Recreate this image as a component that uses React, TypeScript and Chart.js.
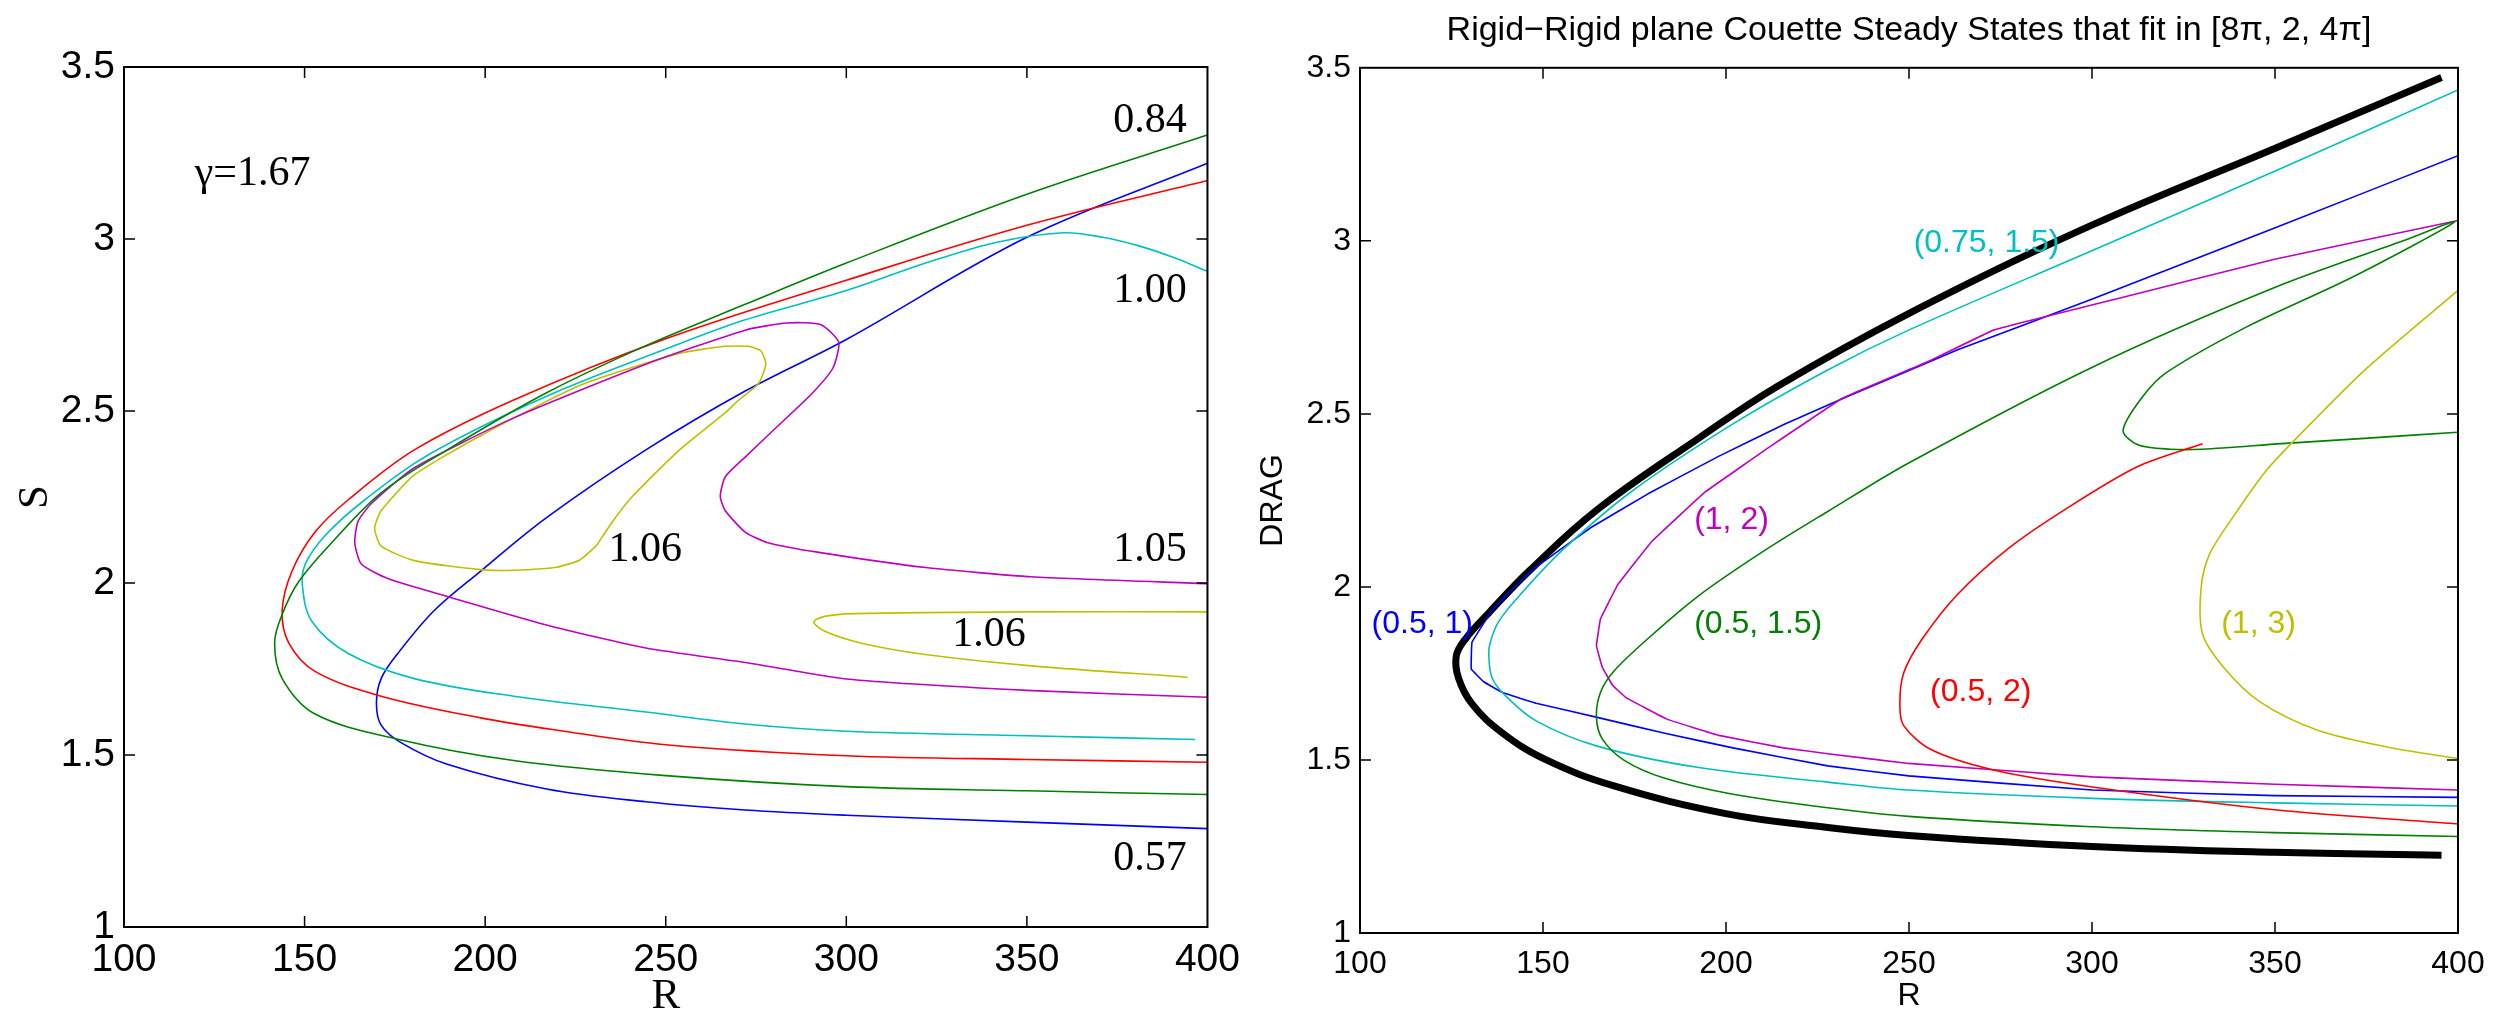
import React, { useEffect, useRef } from "react";
import { Chart, registerables } from "chart.js";

Chart.register(...registerables);

type Pt = [number, number];

// ---------- shared axis values ----------
const X_TICKS = [100, 150, 200, 250, 300, 350, 400];
const Y_TICKS = [1, 1.5, 2, 2.5, 3, 3.5];

// ---------- LEFT PANEL (R, S) ----------
const L_GREEN_084: Pt[] = [
  [400, 1.385], [350, 1.396], [300, 1.408], [250, 1.44], [207.9, 1.484], [175.8, 1.546],
  [152.9, 1.619], [143.8, 1.722], [141.7, 1.826], [143.8, 1.909], [148.3, 2.003], [157.5, 2.117],
  [171.2, 2.262], [189.5, 2.387], [217, 2.553], [244.5, 2.69], [272, 2.81], [300, 2.93],
  [350, 3.13], [400, 3.302],
];
const L_RED: Pt[] = [
  [400, 1.479], [350, 1.487], [300, 1.498], [250, 1.53], [220, 1.572], [198.7, 1.608],
  [171.2, 1.671], [152.9, 1.743], [145.6, 1.826], [143.8, 1.92], [146.5, 2.034], [152.9, 2.148],
  [162.1, 2.242], [180.4, 2.387], [207.9, 2.532], [250, 2.71], [300, 2.88], [350, 3.04], [400, 3.17],
];
const L_CYAN_100: Pt[] = [
  [396.5, 1.545], [350, 1.556], [300, 1.569], [272, 1.59], [244.5, 1.625], [207.9, 1.671],
  [180.4, 1.722], [162.1, 1.795], [152, 1.889], [149.4, 1.992], [150.2, 2.055], [155.7, 2.138],
  [166.7, 2.242], [185, 2.377], [217, 2.543], [250, 2.68], [272, 2.765], [300, 2.85],
  [322, 2.93], [341.5, 2.99], [360, 3.018], [371, 3.005], [381, 2.98], [391, 2.945], [400, 2.906],
];
const L_BLUE_057: Pt[] = [
  [400, 1.286], [350, 1.305], [300, 1.325], [272, 1.34], [244.5, 1.364], [217, 1.401],
  [189.5, 1.473], [176.7, 1.536], [171.2, 1.587], [169.9, 1.65], [171.2, 1.722], [175.8, 1.795],
  [185.9, 1.92], [198.7, 2.034], [217, 2.19], [244.5, 2.387], [272, 2.558], [300, 2.708],
  [350, 3.005], [400, 3.22],
];
const L_MAGENTA_105: Pt[] = [
  [400, 1.668], [350, 1.688], [300, 1.721], [272, 1.769], [244.5, 1.811], [217, 1.878],
  [189.5, 1.961], [173, 2.013], [165.7, 2.055], [163.9, 2.117], [164.8, 2.179], [168.5, 2.231],
  [180.4, 2.335], [207.9, 2.48], [244.5, 2.636], [272, 2.735], [283.6, 2.756], [293, 2.751],
  [297.9, 2.7], [296.3, 2.625], [290.5, 2.551], [280.6, 2.452], [272, 2.366], [266.5, 2.309],
  [265.1, 2.252], [266.5, 2.21], [272, 2.148], [278, 2.118], [292.4, 2.089], [321.9, 2.045],
  [351.3, 2.018], [400, 1.998],
];
const L_YELLOW_106_LOOP: Pt[] = [
  [230.7, 2.107], [226.2, 2.067], [219.8, 2.046], [207.9, 2.037], [198.7, 2.039], [180.4, 2.065],
  [171.2, 2.107], [169.4, 2.159], [171.2, 2.21], [180.4, 2.314], [198.7, 2.428], [226.2, 2.574],
  [253.6, 2.667], [266.5, 2.688], [272.8, 2.688], [276.3, 2.675], [277.7, 2.637], [275.7, 2.58],
  [270, 2.53], [266.5, 2.495], [253.6, 2.385], [240.8, 2.252], [235.3, 2.179], [230.7, 2.107],
];
const L_YELLOW_106_TAIL: Pt[] = [
  [400, 1.916], [350, 1.916], [302.2, 1.911], [294, 1.903], [291, 1.886], [294.4, 1.858],
  [304.2, 1.825], [321.9, 1.792], [351.3, 1.759], [394.5, 1.726],
];

// ---------- RIGHT PANEL (R, DRAG) ----------
const R_BLACK_ENVELOPE: Pt[] = [
  [395.5, 1.225], [349.9, 1.233], [300.1, 1.25], [249.9, 1.282], [227.8, 1.305], [199.9, 1.345],
  [169.4, 1.425], [150.9, 1.5], [138.9, 1.578], [130.6, 1.662], [126.9, 1.737], [126.3, 1.8],
  [128.7, 1.848], [135.2, 1.925], [146.3, 2.047], [164.8, 2.223], [192.6, 2.43], [214.1, 2.58],
  [249.9, 2.79], [300.1, 3.046], [349.9, 3.267], [395.5, 3.472],
];
const R_CYAN_075_15: Pt[] = [
  [400, 1.367], [349.9, 1.376], [300.1, 1.389], [249.9, 1.413], [227.8, 1.436], [192.6, 1.478],
  [164.8, 1.54], [148.1, 1.613], [139.8, 1.685], [136.1, 1.737], [135.2, 1.8], [135.6, 1.84],
  [138, 1.902], [144.4, 1.985], [155.6, 2.109], [174.1, 2.275], [201.9, 2.471], [227.8, 2.627],
  [249.9, 2.742], [300.1, 2.972], [349.9, 3.201], [400, 3.436],
];
const R_BLUE_05_1: Pt[] = [
  [400, 1.392], [349.9, 1.397], [300.1, 1.413], [249.9, 1.454], [227.8, 1.483], [201.9, 1.535],
  [183.3, 1.577], [164.8, 1.623], [148.1, 1.664], [138.9, 1.695], [133.8, 1.726], [130.4, 1.763],
  [130.6, 1.84], [136.1, 1.933], [140.3, 1.98], [148.1, 2.057], [163, 2.171], [178.7, 2.269],
  [198.1, 2.378], [216.1, 2.471], [233.8, 2.553], [263.3, 2.685], [300.1, 2.832], [349.9, 3.037],
  [400, 3.246],
];
const R_MAGENTA_1_2: Pt[] = [
  [400, 1.413], [349.9, 1.43], [300.1, 1.451], [249.9, 1.49], [227.8, 1.518], [215.7, 1.535],
  [198.1, 1.571], [183.8, 1.618], [172.7, 1.68], [169, 1.716], [166.2, 1.768], [164.6, 1.83],
  [165.7, 1.907], [170.4, 2.006], [179.6, 2.13], [194.4, 2.275], [213.9, 2.419], [231.8, 2.545],
  [255.4, 2.652], [273.1, 2.742], [306.6, 2.832], [349.9, 2.947], [400, 3.059],
];
const R_GREEN_05_15: Pt[] = [
  [400, 1.279], [349.9, 1.29], [300.1, 1.307], [249.9, 1.337], [227.8, 1.362], [201.9, 1.401],
  [183.3, 1.447], [172.2, 1.499], [166.2, 1.561], [164.6, 1.623], [165.7, 1.695], [169.4, 1.757],
  [178.7, 1.851], [192.6, 1.975], [211.1, 2.109], [227.8, 2.218], [249.9, 2.358], [300.1, 2.635],
  [349.9, 2.865], [385, 3.0], [399, 3.054], [371.5, 2.897], [342, 2.75], [320.3, 2.619],
  [313.5, 2.545], [308.5, 2.452], [312.5, 2.411], [321.3, 2.398], [330.2, 2.398], [351.8, 2.414],
  [375.4, 2.43], [400, 2.447],
];
const R_RED_05_2: Pt[] = [
  [400, 1.315], [349.9, 1.356], [300.1, 1.422], [273.1, 1.471], [256, 1.53], [248.5, 1.6],
  [247.5, 1.66], [248.5, 1.75], [253.5, 1.848], [263.3, 1.979], [277.1, 2.111], [292.8, 2.225],
  [312.5, 2.348], [330.2, 2.414],
];
const R_YELLOW_1_3: Pt[] = [
  [400, 2.857], [375.4, 2.635], [359.7, 2.471], [347.9, 2.34], [339, 2.209], [332.1, 2.094],
  [329.8, 1.996], [330.2, 1.864], [336.1, 1.766], [345.9, 1.668], [361.7, 1.586], [381.3, 1.536],
  [400, 1.504],
];

// ---------- text ----------
const LEFT_LABEL_TEXT = ["γ=1.67", "0.84", "1.00", "1.06", "1.05", "1.06", "0.57"];
const LEFT_LABEL_AT: Pt[] = [
  [119.6, 3.19], [384.1, 3.343], [384.1, 2.848], [244.3, 2.097], [384.1, 2.097], [339.5, 1.85], [384.1, 1.198],
];
const RIGHT_LABEL_TEXT = ["(0.75, 1.5)", "(1, 2)", "(0.5, 1)", "(0.5, 1.5)", "(0.5, 2)", "(1, 3)"];
const RIGHT_LABEL_AT: Pt[] = [
  [271.2, 2.993], [201.5, 2.194], [117, 1.892], [208.8, 1.892], [269.6, 1.696], [345.5, 1.892],
];
const RIGHT_TITLE = "Rigid\u2212Rigid plane Couette Steady States that fit in [8\u03c0, 2, 4\u03c0]";

// ---------- styles ----------
const GREEN = "#008000";
const RED = "#ff0000";
const CYAN = "#00bfbf";
const BLUE = "#0000ff";
const MAGENTA = "#bf00bf";
const YELLOW = "#bfbf00";
const BLACK = "#000000";

const SANS = "'Liberation Sans', Arial, Helvetica, sans-serif";
const SERIF = "'Liberation Serif', 'Times New Roman', Times, serif";

type Curve = { pts: Pt[]; color: string; width: number; tension: number };

const leftCurves: Curve[] = [
  { pts: L_GREEN_084, color: GREEN, width: 1.6, tension: 0.35 },
  { pts: L_RED, color: RED, width: 1.6, tension: 0.35 },
  { pts: L_CYAN_100, color: CYAN, width: 1.6, tension: 0.35 },
  { pts: L_MAGENTA_105, color: MAGENTA, width: 1.6, tension: 0.2 },
  { pts: L_YELLOW_106_LOOP, color: YELLOW, width: 1.6, tension: 0.2 },
  { pts: L_YELLOW_106_TAIL, color: YELLOW, width: 1.6, tension: 0.3 },
  { pts: L_BLUE_057, color: BLUE, width: 1.6, tension: 0.35 },
];
const leftLabelColors = [BLACK, BLACK, BLACK, BLACK, BLACK, BLACK, BLACK];

const rightCurves: Curve[] = [
  { pts: R_YELLOW_1_3, color: YELLOW, width: 1.6, tension: 0.3 },
  { pts: R_RED_05_2, color: RED, width: 1.6, tension: 0.3 },
  { pts: R_GREEN_05_15, color: GREEN, width: 1.6, tension: 0.3 },
  { pts: R_CYAN_075_15, color: CYAN, width: 1.6, tension: 0.35 },
  { pts: R_MAGENTA_1_2, color: MAGENTA, width: 1.6, tension: 0.05 },
  { pts: R_BLUE_05_1, color: BLUE, width: 1.6, tension: 0.05 },
  { pts: R_BLACK_ENVELOPE, color: BLACK, width: 7, tension: 0.4 },
];
const rightLabelColors = [CYAN, MAGENTA, BLUE, GREEN, RED, YELLOW];

function decorPlugin(opts: {
  tickLen: number;
  labels: string[];
  at: Pt[];
  colors: string[];
  font: string;
  alignFirstLeft: boolean;
}) {
  return {
    id: "decor",
    afterDatasetsDraw(chart: any) {
      const { ctx, chartArea: a, scales } = chart;
      const x = scales.x;
      const y = scales.y;
      ctx.save();
      ctx.strokeStyle = "#000";
      ctx.lineWidth = 2;
      ctx.strokeRect(a.left, a.top, a.right - a.left, a.bottom - a.top);
      ctx.lineWidth = 1.5;
      ctx.beginPath();
      x.ticks.forEach((t: any) => {
        const px = x.getPixelForValue(t.value);
        if (px > a.left + 2 && px < a.right - 2) {
          ctx.moveTo(px, a.bottom);
          ctx.lineTo(px, a.bottom - opts.tickLen);
          ctx.moveTo(px, a.top);
          ctx.lineTo(px, a.top + opts.tickLen);
        }
      });
      y.ticks.forEach((t: any) => {
        const py = y.getPixelForValue(t.value);
        if (py > a.top + 2 && py < a.bottom - 2) {
          ctx.moveTo(a.left, py);
          ctx.lineTo(a.left + opts.tickLen, py);
          ctx.moveTo(a.right, py);
          ctx.lineTo(a.right - opts.tickLen, py);
        }
      });
      ctx.stroke();
      ctx.font = opts.font;
      ctx.textBaseline = "middle";
      opts.labels.forEach((txt, i) => {
        ctx.fillStyle = opts.colors[i];
        ctx.textAlign = opts.alignFirstLeft && i === 0 ? "left" : "center";
        ctx.fillText(txt, x.getPixelForValue(opts.at[i][0]), y.getPixelForValue(opts.at[i][1]));
      });
      ctx.restore();
    },
  };
}

function buildConfig(side: "left" | "right") {
  const isLeft = side === "left";
  const curves = isLeft ? leftCurves : rightCurves;
  const tickFont = { family: SANS, size: isLeft ? 39 : 32 };
  return {
    type: "scatter" as const,
    data: {
      datasets: curves.map((c) => ({
        data: c.pts.map(([r, s]) => ({ x: r, y: s })),
        showLine: true,
        borderColor: c.color,
        backgroundColor: c.color,
        borderWidth: c.width,
        pointRadius: 0,
        pointHoverRadius: 0,
        tension: c.tension,
        fill: false,
        borderJoinStyle: "round" as const,
        borderCapStyle: "butt" as const,
      })),
    },
    options: {
      animation: false as const,
      responsive: false,
      maintainAspectRatio: false,
      events: [] as any[],
      layout: {
        padding: isLeft
          ? { left: 0, top: 67, right: 34, bottom: 0 }
          : { left: 0, top: 0, right: 57, bottom: 0 },
      },
      plugins: {
        legend: { display: false },
        tooltip: { enabled: false },
        title: isLeft
          ? { display: false }
          : {
              display: true,
              text: RIGHT_TITLE,
              fullSize: false,
              color: "#000",
              font: { family: SANS, size: 34, weight: "normal" as const, lineHeight: 1.2 },
              padding: { top: 10, bottom: 17 },
            },
      },
      scales: {
        x: {
          type: "linear" as const,
          min: 100,
          max: 400,
          afterBuildTicks: (s: any) => {
            s.ticks = X_TICKS.map((v) => ({ value: v }));
          },
          afterFit: (s: any) => {
            s.height = isLeft ? 85 : 79;
          },
          ticks: {
            color: "#000",
            font: tickFont,
            padding: isLeft ? 10 : 12,
            maxRotation: 0,
            autoSkip: false,
            callback: (v: any) => String(v),
          },
          grid: { display: false, drawTicks: false },
          border: { display: false },
          title: {
            display: true,
            text: "R",
            color: "#000",
            font: isLeft
              ? { family: SERIF, size: 43, lineHeight: 0.7 }
              : { family: SANS, size: 32, lineHeight: 1.0 },
            padding: { top: 0, bottom: 0 },
          },
        },
        y: {
          type: "linear" as const,
          min: 1,
          max: 3.5,
          afterBuildTicks: (s: any) => {
            s.ticks = Y_TICKS.map((v) => ({ value: v }));
          },
          afterFit: (s: any) => {
            s.width = isLeft ? 124 : 110;
          },
          ticks: {
            color: "#000",
            font: tickFont,
            padding: 9,
            autoSkip: false,
            callback: (v: any) => String(v),
          },
          grid: { display: false, drawTicks: false },
          border: { display: false },
          title: {
            display: true,
            text: isLeft ? "S" : "DRAG",
            color: "#000",
            font: isLeft
              ? { family: SERIF, size: 43, lineHeight: 1.2 }
              : { family: SANS, size: 32, lineHeight: 1.2 },
            padding: isLeft ? { top: 10, bottom: 0 } : { top: 4, bottom: 0 },
          },
        },
      },
    },
    plugins: [
      isLeft
        ? decorPlugin({
            tickLen: 11,
            labels: LEFT_LABEL_TEXT,
            at: LEFT_LABEL_AT,
            colors: leftLabelColors,
            font: `42px ${SERIF}`,
            alignFirstLeft: true,
          })
        : decorPlugin({
            tickLen: 11,
            labels: RIGHT_LABEL_TEXT,
            at: RIGHT_LABEL_AT,
            colors: rightLabelColors,
            font: `32px ${SANS}`,
            alignFirstLeft: false,
          }),
    ],
  };
}

function Panel(props: { side: "left" | "right"; left: number; width: number }) {
  const ref = useRef<HTMLCanvasElement | null>(null);
  useEffect(() => {
    if (!ref.current) return;
    const chart = new Chart(ref.current, buildConfig(props.side) as any);
    return () => chart.destroy();
  }, [props.side]);
  return (
    <canvas
      ref={ref}
      width={props.width}
      height={1012}
      style={{ position: "absolute", left: props.left, top: 0, width: props.width, height: 1012 }}
    />
  );
}

export default function App() {
  return (
    <div
      style={{
        position: "fixed",
        left: 0,
        top: 0,
        width: 2515,
        height: 1012,
        background: "#ffffff",
        overflow: "hidden",
      }}
    >
      <Panel side="left" left={0} width={1250} />
      <Panel side="right" left={1250} width={1265} />
    </div>
  );
}
